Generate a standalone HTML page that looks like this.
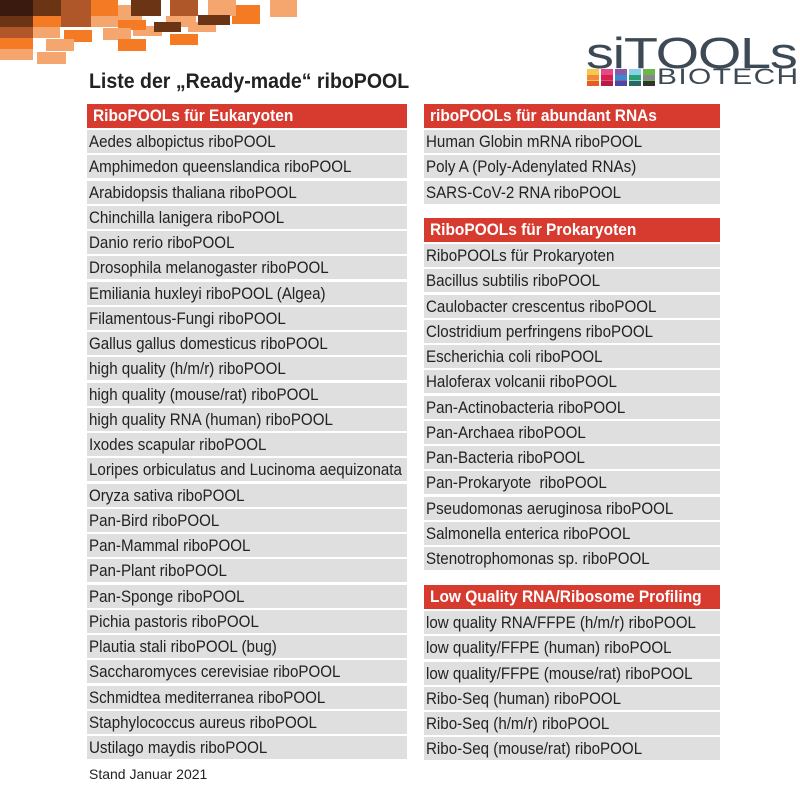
<!DOCTYPE html>
<html><head><meta charset="utf-8"><style>
html,body{margin:0;padding:0;background:#fff;}
body{width:800px;height:800px;position:relative;overflow:hidden;font-family:"Liberation Sans",sans-serif;}
.r{position:absolute;}
.h{position:absolute;height:24px;background:#d73b30;color:#fff;font-weight:bold;font-size:17px;line-height:24px;padding-left:6px;box-sizing:border-box;white-space:nowrap;}
.row{position:absolute;height:23px;background:#dfdfdf;color:#222;font-size:17px;line-height:23px;padding-left:2px;box-sizing:border-box;white-space:nowrap;}
.h span{display:inline-block;transform:scaleX(0.91);transform-origin:left;}
.row span{display:inline-block;transform:scaleX(0.89);transform-origin:left;}
</style></head><body>
<div id="deco"></div>
<div class="r" style="left:89px;top:70px;font-weight:bold;font-size:21px;color:#222;white-space:nowrap;transform:scaleX(0.93);transform-origin:left;">Liste der „Ready-made“ riboPOOL</div>

<div class="r" style="left:586px;top:30px;font-size:44px;color:#3d4a55;letter-spacing:-1px;line-height:48px;transform:scaleX(1.27);transform-origin:left;white-space:nowrap;">siTOOLs</div>
<div class="r" style="left:657px;top:66px;font-size:22px;color:#3d4a55;line-height:22px;letter-spacing:1px;transform:scaleX(1.36);transform-origin:left;white-space:nowrap;">BIOTECH</div>
<svg class="r" style="left:587px;top:69px" width="70" height="17">
<g><rect x="0" y="0" width="12" height="17" fill="#f7c94a"/><rect x="0" y="6" width="12" height="5" fill="#f08a3c"/><rect x="0" y="12" width="12" height="5" fill="#e85a2a"/></g>
<g><rect x="14" y="0" width="12" height="17" fill="#e8488a"/><rect x="14" y="6" width="12" height="5" fill="#d62050"/><rect x="14" y="12" width="12" height="5" fill="#b02040"/></g>
<g><rect x="28" y="0" width="12" height="17" fill="#8a5aa8"/><rect x="28" y="6" width="12" height="5" fill="#3a8ad0"/><rect x="28" y="12" width="12" height="5" fill="#4a4aa0"/></g>
<g><rect x="42" y="0" width="12" height="17" fill="#8ad0e8"/><rect x="42" y="6" width="12" height="5" fill="#2aa070"/><rect x="42" y="12" width="12" height="5" fill="#2a6a5a"/></g>
<g><rect x="56" y="0" width="12" height="17" fill="#6ab84a"/><rect x="56" y="6" width="12" height="5" fill="#888"/><rect x="56" y="12" width="12" height="5" fill="#333"/></g>
</svg>

<div id="tables"></div>
<div class="r" style="left:89px;top:766px;font-size:14px;color:#222;">Stand Januar 2021</div>
<script>
var D='#3a1a0e',M='#6b3414',B='#b0572a',O='#f47a23',L='#f5a66e';
var rs=[[L,113,5,29,22],[O,232,5,28,19],[L,188,22,28,10],[L,133,26,29,10],[L,166,16,30,11],
[D,0,0,33,16],[M,33,0,28,16],[B,61,0,30,27],[O,91,0,27,16],[M,131,0,30,16],[B,170,0,28,16],[L,208,0,28,16],[L,270,0,27,17],
[M,0,16,33,11],[O,33,16,28,11],[L,91,16,27,11],[O,118,20,28,10],[M,198,15,32,10],[M,154,22,27,10],
[B,0,27,33,11],[L,33,27,27,11],[O,64,30,28,12],[L,103,28,28,12],
[O,0,38,33,11],[L,46,39,28,12],[O,118,39,28,12],[O,170,34,28,11],[L,0,49,33,11],[L,37,52,29,12]];
var h='';rs.forEach(function(r){h+='<div class="r" style="background:'+r[0]+';left:'+r[1]+'px;top:'+r[2]+'px;width:'+r[3]+'px;height:'+r[4]+'px"></div>';});
document.getElementById('deco').innerHTML=h;
function tbl(x,w,y,head,rows){var s='<div class="h" style="left:'+x+'px;top:'+y+'px;width:'+w+'px"><span>'+head+'</span></div>';
rows.forEach(function(t,i){s+='<div class="row" style="left:'+x+'px;top:'+(y+26+i*25.25)+'px;width:'+w+'px"><span>'+t+'</span></div>';});return s;}
var t='';
t+=tbl(87,320,104,'RiboPOOLs für Eukaryoten',['Aedes albopictus riboPOOL','Amphimedon queenslandica riboPOOL','Arabidopsis thaliana riboPOOL','Chinchilla lanigera riboPOOL','Danio rerio riboPOOL','Drosophila melanogaster riboPOOL','Emiliania huxleyi riboPOOL (Algea)','Filamentous-Fungi riboPOOL','Gallus gallus domesticus riboPOOL','high quality (h/m/r) riboPOOL','high quality (mouse/rat) riboPOOL','high quality RNA (human) riboPOOL','Ixodes scapular riboPOOL','Loripes orbiculatus and Lucinoma aequizonata','Oryza sativa riboPOOL','Pan-Bird riboPOOL','Pan-Mammal riboPOOL','Pan-Plant riboPOOL','Pan-Sponge riboPOOL','Pichia pastoris riboPOOL','Plautia stali riboPOOL (bug)','Saccharomyces cerevisiae riboPOOL','Schmidtea mediterranea riboPOOL','Staphylococcus aureus riboPOOL','Ustilago maydis riboPOOL']);
t+=tbl(424,296,104,'riboPOOLs für abundant RNAs',['Human Globin mRNA riboPOOL','Poly A (Poly-Adenylated RNAs)','SARS-CoV-2 RNA riboPOOL']);
t+=tbl(424,296,218,'RiboPOOLs für Prokaryoten',['RiboPOOLs für Prokaryoten','Bacillus subtilis riboPOOL','Caulobacter crescentus riboPOOL','Clostridium perfringens riboPOOL','Escherichia coli riboPOOL','Haloferax volcanii riboPOOL','Pan-Actinobacteria riboPOOL','Pan-Archaea riboPOOL','Pan-Bacteria riboPOOL','Pan-Prokaryote &nbsp;riboPOOL','Pseudomonas aeruginosa riboPOOL','Salmonella enterica riboPOOL','Stenotrophomonas sp. riboPOOL']);
t+=tbl(424,296,585,'Low Quality RNA/Ribosome Profiling',['low quality RNA/FFPE (h/m/r) riboPOOL','low quality/FFPE (human) riboPOOL','low quality/FFPE (mouse/rat) riboPOOL','Ribo-Seq (human) riboPOOL','Ribo-Seq (h/m/r) riboPOOL','Ribo-Seq (mouse/rat) riboPOOL']);
document.getElementById('tables').innerHTML=t;
</script>
</body></html>
